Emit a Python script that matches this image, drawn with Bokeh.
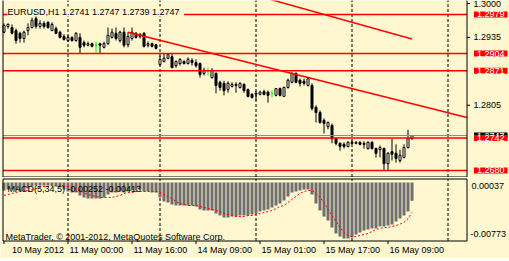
from bokeh.plotting import figure
from bokeh.layouts import column
from bokeh.models import Range1d, Label, ColumnDataSource, Div
from bokeh.embed import file_html
from bokeh.resources import INLINE

# ---------------- data (EURUSD H1) ----------------
opens = [1.2945, 1.2956, 1.2954, 1.2948, 1.2943, 1.2933, 1.2948, 1.2954, 1.2971, 1.2956,
         1.2962, 1.2964, 1.2948, 1.2952, 1.2945, 1.2937, 1.2929, 1.2935, 1.2929, 1.2935,
         1.2925, 1.2920, 1.2923, 1.2920, 1.2923, 1.2916, 1.2923, 1.2935, 1.2943, 1.2929,
         1.2945, 1.2921, 1.2933, 1.2943, 1.2941, 1.2943, 1.2920, 1.2923, 1.2921, 1.2883,
         1.2889, 1.2895, 1.2898, 1.2881, 1.2885, 1.2889, 1.2885, 1.2891, 1.2887, 1.2885,
         1.2866, 1.2870, 1.2858, 1.2866, 1.2849, 1.2847, 1.2835, 1.2841, 1.2845, 1.2839,
         1.2845, 1.2835, 1.2826, 1.2826, 1.2826, 1.2831, 1.2830, 1.2828, 1.2824, 1.2837,
         1.2822, 1.2839, 1.2849, 1.2866, 1.2853, 1.2851, 1.2843, 1.2843, 1.2801, 1.2791,
         1.2776, 1.2764, 1.2766, 1.2741, 1.2732, 1.2730, 1.2726, 1.2734, 1.2732, 1.2734,
         1.2732, 1.2722, 1.2734, 1.2722, 1.2720, 1.2722, 1.2693, 1.2716, 1.2713, 1.2699,
         1.2705, 1.2724, 1.2741]
highs = [1.2962, 1.2962, 1.2960, 1.2952, 1.2946, 1.2948, 1.2962, 1.2973, 1.2977, 1.2968,
         1.2966, 1.2966, 1.2964, 1.2956, 1.2948, 1.2941, 1.2939, 1.2937, 1.2945, 1.2943,
         1.2929, 1.2927, 1.2925, 1.2927, 1.2925, 1.2927, 1.2954, 1.2952, 1.2954, 1.2948,
         1.2954, 1.2945, 1.2954, 1.2945, 1.2943, 1.2945, 1.2927, 1.2925, 1.2923, 1.2900,
         1.2904, 1.2904, 1.2904, 1.2891, 1.2895, 1.2891, 1.2897, 1.2895, 1.2893, 1.2887,
         1.2877, 1.2877, 1.2876, 1.2868, 1.2852, 1.2852, 1.2851, 1.2849, 1.2849, 1.2849,
         1.2847, 1.2837, 1.2828, 1.2833, 1.2833, 1.2835, 1.2833, 1.2833, 1.2837, 1.2839,
         1.2841, 1.2856, 1.2868, 1.2868, 1.2856, 1.2856, 1.2858, 1.2847, 1.2805, 1.2795,
         1.2780, 1.2774, 1.2770, 1.2743, 1.2734, 1.2734, 1.2736, 1.2738, 1.2736, 1.2736,
         1.2736, 1.2736, 1.2736, 1.2724, 1.2728, 1.2724, 1.2715, 1.2741, 1.2730, 1.2720,
         1.2730, 1.2758, 1.2747]
lows = [1.2943, 1.2952, 1.2941, 1.2923, 1.2925, 1.2925, 1.2939, 1.2952, 1.2952, 1.2952,
        1.2952, 1.2952, 1.2948, 1.2941, 1.2933, 1.2929, 1.2927, 1.2927, 1.2927, 1.2904,
        1.2916, 1.2918, 1.2916, 1.2906, 1.2904, 1.2914, 1.2921, 1.2933, 1.2929, 1.2925,
        1.2916, 1.2916, 1.2929, 1.2933, 1.2933, 1.2916, 1.2916, 1.2916, 1.2912, 1.2881,
        1.2887, 1.2893, 1.2877, 1.2877, 1.2881, 1.2883, 1.2883, 1.2881, 1.2877, 1.2858,
        1.2862, 1.2862, 1.2856, 1.2828, 1.2833, 1.2824, 1.2829, 1.2839, 1.2829, 1.2837,
        1.2829, 1.2820, 1.2818, 1.2814, 1.2824, 1.2824, 1.2810, 1.2820, 1.2822, 1.2822,
        1.2822, 1.2837, 1.2847, 1.2847, 1.2841, 1.2843, 1.2841, 1.2795, 1.2772, 1.2770,
        1.2751, 1.2759, 1.2732, 1.2728, 1.2718, 1.2722, 1.2724, 1.2730, 1.2730, 1.2728,
        1.2722, 1.2720, 1.2720, 1.2705, 1.2705, 1.2680, 1.2680, 1.2699, 1.2695, 1.2695,
        1.2703, 1.2722, 1.2739]
closes = [1.2958, 1.2960, 1.2943, 1.2929, 1.2933, 1.2945, 1.2954, 1.2968, 1.2956, 1.2962,
          1.2956, 1.2954, 1.2960, 1.2943, 1.2935, 1.2931, 1.2935, 1.2929, 1.2943, 1.2916,
          1.2920, 1.2923, 1.2918, 1.2920, 1.2920, 1.2923, 1.2939, 1.2945, 1.2933, 1.2945,
          1.2920, 1.2937, 1.2945, 1.2935, 1.2937, 1.2918, 1.2923, 1.2918, 1.2914, 1.2893,
          1.2895, 1.2902, 1.2877, 1.2889, 1.2893, 1.2885, 1.2893, 1.2887, 1.2881, 1.2864,
          1.2872, 1.2870, 1.2872, 1.2843, 1.2839, 1.2833, 1.2847, 1.2845, 1.2843, 1.2847,
          1.2833, 1.2822, 1.2820, 1.2828, 1.2830, 1.2826, 1.2824, 1.2828, 1.2837, 1.2824,
          1.2839, 1.2853, 1.2866, 1.2849, 1.2847, 1.2847, 1.2856, 1.2799, 1.2791, 1.2772,
          1.2770, 1.2772, 1.2741, 1.2732, 1.2726, 1.2726, 1.2734, 1.2732, 1.2734, 1.2730,
          1.2730, 1.2734, 1.2722, 1.2713, 1.2724, 1.2693, 1.2713, 1.2711, 1.2703, 1.2709,
          1.2724, 1.2741, 1.2747]

macd_hist = [-0.00112, -0.00098, -0.00098, -0.00112, -0.00125, -0.00112, -0.00084, -0.00056, -0.00043, -0.00043,
             -0.00043, -0.00043, -0.00043, -0.00056, -0.00070, -0.00098, -0.00125, -0.00139, -0.00139, -0.00180,
             -0.00208, -0.00222, -0.00222, -0.00222, -0.00222, -0.00208, -0.00167, -0.00139, -0.00139, -0.00125,
             -0.00139, -0.00125, -0.00112, -0.00112, -0.00098, -0.00125, -0.00125, -0.00139, -0.00139, -0.00208,
             -0.00263, -0.00277, -0.00304, -0.00318, -0.00318, -0.00318, -0.00318, -0.00318, -0.00332, -0.00373,
             -0.00387, -0.00387, -0.00387, -0.00428, -0.00456, -0.00484, -0.00484, -0.00470, -0.00470, -0.00456,
             -0.00456, -0.00456, -0.00442, -0.00428, -0.00401, -0.00387, -0.00373, -0.00346, -0.00318, -0.00291,
             -0.00249, -0.00194, -0.00139, -0.00125, -0.00112, -0.00098, -0.00098, -0.00167, -0.00291, -0.00387,
             -0.00470, -0.00525, -0.00622, -0.00704, -0.00745, -0.00773, -0.00773, -0.00759, -0.00718, -0.00690,
             -0.00663, -0.00649, -0.00636, -0.00636, -0.00608, -0.00608, -0.00594, -0.00580, -0.00539, -0.00497,
             -0.00456, -0.00401, -0.00252]
macd_signal = [-0.00180, -0.00167, -0.00153, -0.00139, -0.00125, -0.00112, -0.00112, -0.00098, -0.00084, -0.00070,
               -0.00056, -0.00056, -0.00043, -0.00043, -0.00043, -0.00056, -0.00056, -0.00070, -0.00098, -0.00112,
               -0.00139, -0.00167, -0.00180, -0.00194, -0.00208, -0.00208, -0.00208, -0.00208, -0.00194, -0.00180,
               -0.00153, -0.00139, -0.00139, -0.00125, -0.00125, -0.00125, -0.00125, -0.00125, -0.00125, -0.00139,
               -0.00167, -0.00194, -0.00222, -0.00263, -0.00291, -0.00304, -0.00318, -0.00318, -0.00318, -0.00332,
               -0.00346, -0.00360, -0.00373, -0.00387, -0.00401, -0.00428, -0.00442, -0.00456, -0.00470, -0.00470,
               -0.00470, -0.00456, -0.00456, -0.00442, -0.00428, -0.00415, -0.00401, -0.00387, -0.00360, -0.00332,
               -0.00318, -0.00277, -0.00235, -0.00194, -0.00153, -0.00125, -0.00112, -0.00112, -0.00153, -0.00208,
               -0.00277, -0.00373, -0.00456, -0.00539, -0.00622, -0.00690, -0.00731, -0.00745, -0.00745, -0.00731,
               -0.00718, -0.00704, -0.00677, -0.00649, -0.00636, -0.00622, -0.00622, -0.00608, -0.00594, -0.00575,
               -0.00550, -0.00500, -0.00413]

symbol = "EURUSD,H1"
macd_name = "MACD(5,34,5)"
macd_range_labels = ["0.00037", "-0.00773"]
level_prices = [1.2979, 1.2904, 1.2871, 1.2742, 1.2680]
bid_price = 1.2747
price_ticks = [1.3000, 1.2935, 1.2805]
time_tick_bars = [0, 16, 32, 48, 64, 80, 96]
time_labels = ["10 May 2012", "11 May 00:00", "11 May 16:00", "14 May 09:00",
               "15 May 01:00", "15 May 17:00", "16 May 09:00"]
day_grid_bars = [16, 39, 63, 87, 111]
trend_down_bars = [31, 102]          # ray, extended to the right edge of the chart
trend_down_prices = [1.2945, 1.2808]
trend_up_bars = [60, 102]            # plain segment
trend_up_prices = [1.3022, 1.2932]
copyright_text = "MetaTrader, \u00a9 2001-2012, MetaQuotes Software Corp."

# ---------------- styling / layout constants ----------------
BG = "#FEF7D0"
FONT = "Liberation Sans"
FS = "9px"
PX_PER_BAR = 4.0
PX_PER_PRICE = 5217.0
PX_PER_MACD = 7257.0

n = len(closes)
idx = list(range(n))

# whole canvas is the data frame; chart window edges drawn explicitly
xr = Range1d(-0.875, -0.875 + 509 / PX_PER_BAR)
X_LEFT, X_RIGHT = -0.25, 115.75          # chart window borders (bar units)
P_TOP = 1.30058                           # price at the top edge of the canvas
P_BOTTOM_EDGE = P_TOP - 176.5 / PX_PER_PRICE

main = figure(width=509, height=177, x_range=xr,
              y_range=Range1d(P_TOP - 177 / PX_PER_PRICE, P_TOP),
              output_backend="svg", toolbar_location=None,
              x_axis_location=None, y_axis_location=None,
              min_border=0, min_border_left=0, min_border_right=0,
              min_border_top=0, min_border_bottom=0,
              background_fill_color=BG, border_fill_color=BG, outline_line_color=None)
main.grid.visible = False


def txt(fig, x, y, text, color="black", bg=None, pad=None, x_offset=0):
    kw = dict(x=x, y=y, text=text, x_offset=x_offset, text_align="left",
              text_baseline="middle", text_font=FONT, text_font_size=FS, text_color=color)
    if bg is not None:
        kw["background_fill_color"] = bg
        kw["padding"] = pad or dict(left=3, right=3, top=0, bottom=0)
    fig.add_layout(Label(**kw))


# day separators
main.segment(x0=day_grid_bars, y0=[P_BOTTOM_EDGE] * len(day_grid_bars),
             x1=day_grid_bars, y1=[P_TOP + 0.001] * len(day_grid_bars),
             line_color="black", line_dash="3 2", line_width=1)

# candles
fills, lines, tops, bots = [], [], [], []
for o, c in zip(opens, closes):
    if c > o:
        fills.append("white"); lines.append("black")
    elif c < o:
        fills.append("black"); lines.append("black")
    else:
        fills.append("#00FF00"); lines.append("#00FF00")
    tops.append(max(o, c)); bots.append(min(o, c))
src = ColumnDataSource(dict(x=idx, h=highs, l=lows, top=tops, bottom=bots, fill=fills, line=lines))
main.segment(x0="x", y0="l", x1="x", y1="h", line_color="line", line_width=1, source=src)
main.vbar(x="x", width=0.5, top="top", bottom="bottom", fill_color="fill",
          line_color="line", line_width=1, source=src)

# bid line and horizontal levels
main.segment(x0=[X_LEFT], y0=[bid_price], x1=[X_RIGHT], y1=[bid_price],
             line_color="#8c8c8c", line_width=1)
main.segment(x0=[X_LEFT] * len(level_prices), y0=level_prices,
             x1=[X_RIGHT] * len(level_prices), y1=level_prices,
             line_color="#FF0000", line_width=1.5)

# trend lines
slope = (trend_down_prices[1] - trend_down_prices[0]) / (trend_down_bars[1] - trend_down_bars[0])
main.line([trend_down_bars[0], X_RIGHT],
          [trend_down_prices[0], trend_down_prices[0] + slope * (X_RIGHT - trend_down_bars[0])],
          line_color="#FF0000", line_width=1.5)
main.line(trend_up_bars, trend_up_prices, line_color="#FF0000", line_width=1.5)

# window border (left, right, bottom)
main.line([X_LEFT, X_LEFT, X_RIGHT, X_RIGHT],
          [P_TOP + 0.001, P_BOTTOM_EDGE, P_BOTTOM_EDGE, P_TOP + 0.001],
          line_color="black", line_width=1)

# price scale: ticks + labels
main.segment(x0=[X_RIGHT] * len(price_ticks), y0=price_ticks,
             x1=[X_RIGHT + 3 / PX_PER_BAR] * len(price_ticks), y1=price_ticks,
             line_color="black", line_width=1)
for t in price_ticks:
    txt(main, X_RIGHT + 6.5 / PX_PER_BAR, t, f"{t:.4f}")

# header text (its background hides the level line behind it)
header = f"{symbol}  {opens[-1]:.4f} {highs[-1]:.4f} {lows[-1]:.4f} {closes[-1]:.4f}"
txt(main, 0.875, P_TOP - 11 / PX_PER_PRICE, header, bg=BG,
    pad=dict(left=0, right=2, top=0, bottom=0))

# price boxes on the scale
txt(main, 117.5, bid_price, f"{bid_price:.4f}", color="white", bg="black")
for lv in level_prices:
    txt(main, 117.5, lv, f"{lv:.4f}", color="white", bg="#FF0000")

# ---------------- MACD window ----------------
M_ZERO_PAGE_Y = 181.9          # page row of the zero value
M_TOP = (M_ZERO_PAGE_Y - 177) / PX_PER_MACD
M_BOTTOM = -(258 - M_ZERO_PAGE_Y) / PX_PER_MACD
W_TOP = (M_ZERO_PAGE_Y - 178.5) / PX_PER_MACD
W_BOTTOM = -(240.5 - M_ZERO_PAGE_Y) / PX_PER_MACD

macd = figure(width=509, height=81, x_range=xr, y_range=Range1d(M_BOTTOM, M_TOP),
              output_backend="svg", toolbar_location=None,
              x_axis_location=None, y_axis_location=None,
              min_border=0, min_border_left=0, min_border_right=0,
              min_border_top=0, min_border_bottom=0,
              background_fill_color=BG, border_fill_color=BG, outline_line_color=None)
macd.grid.visible = False

macd.segment(x0=day_grid_bars, y0=[W_BOTTOM] * len(day_grid_bars),
             x1=day_grid_bars, y1=[W_TOP] * len(day_grid_bars),
             line_color="black", line_dash="3 2", line_width=1)

macd.vbar(x=idx, top=0, bottom=macd_hist, width=0.75, fill_color="#6e6e6e", line_color=None)
macd.line(idx, macd_signal, line_color="#FF0000", line_dash="2 2", line_width=1)

# window border
macd.line([X_LEFT, X_LEFT, X_RIGHT, X_RIGHT, X_LEFT],
          [W_TOP, W_BOTTOM, W_BOTTOM, W_TOP, W_TOP], line_color="black", line_width=1)

# time axis ticks + labels
macd.segment(x0=time_tick_bars, y0=[W_BOTTOM] * len(time_tick_bars),
             x1=time_tick_bars, y1=[W_BOTTOM - 3 / PX_PER_MACD] * len(time_tick_bars),
             line_color="black", line_width=1)
for k, (b, t) in enumerate(zip(time_tick_bars, time_labels)):
    txt(macd, b, -(249 - M_ZERO_PAGE_Y) / PX_PER_MACD, t, x_offset=8 if k == 0 else 1.5)

macd_header = f"{macd_name} {macd_hist[-1]:.5f} {macd_signal[-1]:.5f}"
txt(macd, 0.875, -(188 - M_ZERO_PAGE_Y) / PX_PER_MACD, macd_header)
txt(macd, 0.375, -(236 - M_ZERO_PAGE_Y) / PX_PER_MACD, copyright_text)
txt(macd, X_RIGHT + 4.5 / PX_PER_BAR, -(185 - M_ZERO_PAGE_Y) / PX_PER_MACD, macd_range_labels[0])
txt(macd, X_RIGHT + 3.5 / PX_PER_BAR, -(233 - M_ZERO_PAGE_Y) / PX_PER_MACD, macd_range_labels[1])

strip = Div(text="", width=509, height=3, styles={"background-color": "black"})

layout = column(main, macd, strip, spacing=0)
open("out.html", "w").write(file_html(layout, INLINE))
